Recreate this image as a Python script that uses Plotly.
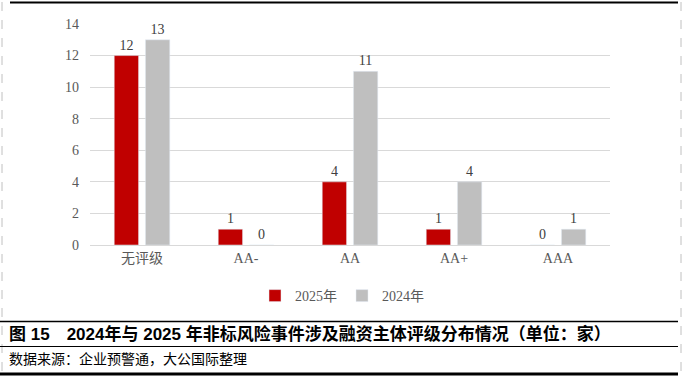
import plotly.graph_objects as go

categories = ["无评级", "AA-", "AA", "AA+", "AAA"]
values_2025 = [12, 1, 4, 1, 0]
values_2024 = [13, 0, 11, 4, 1]
series_names = ["2025年", "2024年"]
y_ticks = [0, 2, 4, 6, 8, 10, 12, 14]

W, H = 684, 376
def px(x):
    return x / W
def py(y):
    return 1 - y / H

num_font = "Times New Roman, Liberation Serif, Noto Sans CJK SC"
cjk_font = "Liberation Sans, Noto Sans CJK SC"

fig = go.Figure()
fig.add_trace(go.Bar(
    x=categories, y=values_2025, name=series_names[0],
    marker_color="#c00000", text=values_2025, textposition="outside",
    textfont=dict(family=num_font, size=14, color="#404040"), cliponaxis=False,
))
fig.add_trace(go.Bar(
    x=categories, y=values_2024, name=series_names[1],
    marker_color="#bfbfbf", text=values_2024, textposition="outside",
    textfont=dict(family=num_font, size=14, color="#404040"), cliponaxis=False,
))

fig.update_layout(
    width=W, height=H,
    margin=dict(l=0, r=0, t=0, b=0, autoexpand=False),
    paper_bgcolor="white", plot_bgcolor="white",
    barmode="group", bargap=0.40, bargroupgap=0.22,
    font=dict(family=num_font, size=14, color="#595959"),
    showlegend=True,
    legend=dict(orientation="h", x=px(342), y=py(296), xanchor="center", yanchor="middle",
                font=dict(family=num_font, size=14, color="#595959"),
                itemwidth=30, traceorder="normal"),
    xaxis=dict(domain=[px(90), px(610)], showgrid=False, showline=True, automargin=False,
               linecolor="#d9d9d9", linewidth=1, ticks="",
               tickfont=dict(family=num_font, size=14, color="#595959")),
    yaxis=dict(domain=[py(245), py(24)], range=[0, 14], tickvals=y_ticks, automargin=False,
               showgrid=True, gridcolor="#d9d9d9", gridwidth=1, zeroline=False,
               showline=False, ticks="", ticklabelstandoff=10,
               tickfont=dict(family=num_font, size=14, color="#595959")),
)

shapes = [
    dict(type="line", xref="paper", yref="paper", x0=px(10), x1=px(678), y0=py(2.5), y1=py(2.5),
         line=dict(color="black", width=2)),
    dict(type="line", xref="paper", yref="paper", x0=px(2), x1=px(2), y0=py(2), y1=py(376),
         line=dict(color="#c0c0c0", width=1, dash="dash")),
    dict(type="line", xref="paper", yref="paper", x0=px(681), x1=px(681), y0=py(2), y1=py(376),
         line=dict(color="#c0c0c0", width=1, dash="dash")),
    dict(type="line", xref="paper", yref="paper", x0=px(0), x1=px(678), y0=py(321.5), y1=py(321.5),
         line=dict(color="black", width=1.5)),
    dict(type="line", xref="paper", yref="paper", x0=px(0), x1=px(678), y0=py(346.5), y1=py(346.5),
         line=dict(color="black", width=1.2)),
    dict(type="line", xref="paper", yref="paper", x0=px(0), x1=px(678), y0=py(374), y1=py(374),
         line=dict(color="black", width=3)),
]
fig.update_layout(shapes=shapes)

fig.add_annotation(xref="paper", yref="paper", x=px(7), y=py(334), xanchor="left", yanchor="middle",
                   text="<b>图 15　2024年与 2025 年非标风险事件涉及融资主体评级分布情况（单位：家）</b>",
                   showarrow=False, font=dict(family=cjk_font, size=17, color="black"))
fig.add_annotation(xref="paper", yref="paper", x=px(7), y=py(359), xanchor="left", yanchor="middle",
                   text="数据来源：企业预警通，大公国际整理",
                   showarrow=False, font=dict(family=cjk_font, size=14, color="black"))

fig.write_html("out.html", config={"displayModeBar": False},
               post_script="document.body.style.margin='0';document.body.style.overflow='hidden';")
